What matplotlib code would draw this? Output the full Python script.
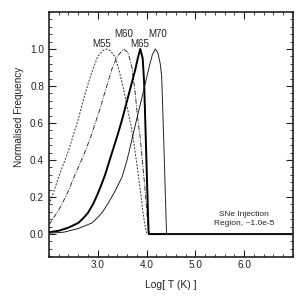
import matplotlib
matplotlib.use("Agg")
import matplotlib.pyplot as plt
from matplotlib.ticker import MultipleLocator, FixedLocator

plt.rcParams['font.family'] = ['Liberation Sans', 'DejaVu Sans']

# M55 (dotted)
m55_x = [2.0, 2.1, 2.2, 2.3, 2.4, 2.5, 2.6, 2.7, 2.8, 2.9, 3.0, 3.1, 3.18, 3.26,
         3.36, 3.45, 3.53, 3.6, 3.67, 3.73, 3.8, 3.87, 3.93, 3.97, 4.01, 7.0]
m55_y = [0.16, 0.23, 0.31, 0.38, 0.45, 0.535, 0.62, 0.72, 0.81, 0.89, 0.96, 0.99, 1.0, 0.99,
         0.955, 0.87, 0.78, 0.69, 0.60, 0.51, 0.38, 0.24, 0.11, 0.04, 0.0, 0.0]

# M60 (dash-dot)
m60_x = [2.0, 2.1, 2.2, 2.3, 2.41, 2.5, 2.6, 2.7, 2.85, 2.95, 3.05, 3.15, 3.22, 3.3,
         3.4, 3.53, 3.62, 3.7, 3.76, 3.82, 3.87, 3.93, 3.97, 4.01, 4.04, 4.06, 7.0]
m60_y = [0.05, 0.09, 0.13, 0.18, 0.24, 0.30, 0.36, 0.42, 0.52, 0.60, 0.68, 0.77, 0.83, 0.90,
         0.96, 1.0, 0.98, 0.90, 0.78, 0.62, 0.52, 0.35, 0.24, 0.10, 0.01, 0.0, 0.0]

# M65 (thick solid)
m65_x = [2.0, 2.2, 2.4, 2.6, 2.7, 2.8, 2.9, 2.97, 3.05, 3.15, 3.28, 3.4, 3.5, 3.6,
         3.7, 3.77, 3.82, 3.87, 3.92, 3.95, 3.98, 4.01, 4.04, 4.05, 7.0]
m65_y = [0.01, 0.018, 0.035, 0.06, 0.085, 0.115, 0.16, 0.20, 0.25, 0.32, 0.43, 0.53, 0.62, 0.72,
         0.82, 0.89, 0.95, 1.0, 0.95, 0.82, 0.55, 0.28, 0.02, 0.0, 0.0]

# M70 (thin solid)
m70_x = [2.0, 2.3, 2.6, 2.88, 3.0, 3.1, 3.22, 3.35, 3.5, 3.6, 3.7, 3.77, 3.87, 3.97,
         4.05, 4.12, 4.18, 4.23, 4.28, 4.31, 4.35, 4.38, 4.41, 7.0]
m70_y = [0.005, 0.01, 0.03, 0.06, 0.09, 0.12, 0.17, 0.23, 0.31, 0.40, 0.51, 0.59, 0.70, 0.81,
         0.90, 0.97, 1.0, 0.98, 0.92, 0.85, 0.52, 0.25, 0.0, 0.0]

labels = ["M55", "M60", "M65", "M70"]
label_x = [3.08, 3.53, 3.85, 4.22]
label_y = [1.027, 1.08, 1.027, 1.08]

x_ticks = [3.0, 4.0, 5.0, 6.0]
x_ticklabels = ["3.0", "4.0", "5.0", "6.0"]
y_ticks = [0.0, 0.2, 0.4, 0.6, 0.8, 1.0]
y_ticklabels = ["0.0", "0.2", "0.4", "0.6", "0.8", "1.0"]

fig = plt.figure(figsize=(3.06, 3.06), dpi=100)
ax = fig.add_axes([0.160, 0.160, 0.7975, 0.801])

ax.plot(m55_x, m55_y, color='#333333', lw=0.7, linestyle=(0, (2, 1.5)))
ax.plot(m60_x, m60_y, color='#333333', lw=0.7, linestyle=(0, (5, 1.5, 1, 1.5)))
ax.plot(m65_x, m65_y, color='black', lw=1.4)
ax.plot(m70_x, m70_y, color='#222222', lw=0.7)

for t, lx, ly in zip(labels, label_x, label_y):
    ax.text(lx, ly, t, ha='center', va='center', fontsize=7, color='#222222')

ax.text(6.0, 0.081, "SNe Injection\nRegion, ~1.0e-5", ha='center', va='center',
        fontsize=6, color='#222222', linespacing=1.3)

ax.set_xlim(2.0, 7.0)
ax.set_ylim(-0.124, 1.2)
ax.xaxis.set_major_locator(FixedLocator(x_ticks))
ax.set_xticklabels(x_ticklabels)
ax.xaxis.set_minor_locator(MultipleLocator(0.2))
ax.yaxis.set_major_locator(FixedLocator(y_ticks))
ax.set_yticklabels(y_ticklabels)
ax.yaxis.set_minor_locator(MultipleLocator(0.04))

ax.tick_params(which='both', direction='in', top=True, right=True, labelsize=7.2,
               color='#222222', labelcolor='#222222')
ax.tick_params(which='major', length=5, width=0.8)
ax.tick_params(which='minor', length=2.5, width=0.6)
ax.tick_params(axis='x', which='major', pad=2)
ax.tick_params(axis='y', which='major', pad=3.5)
for s in ax.spines.values():
    s.set_linewidth(1.2)
    s.set_color('#222222')

ax.set_xlabel("Log[ T (K) ]", fontsize=7.5, color='#222222')
ax.set_ylabel("Normalised Frequency", fontsize=7.2, color='#222222')
ax.xaxis.set_label_coords(0.5, -0.092)
ax.yaxis.set_label_coords(-0.104, 0.57)

fig.savefig("out.png", dpi=100)
